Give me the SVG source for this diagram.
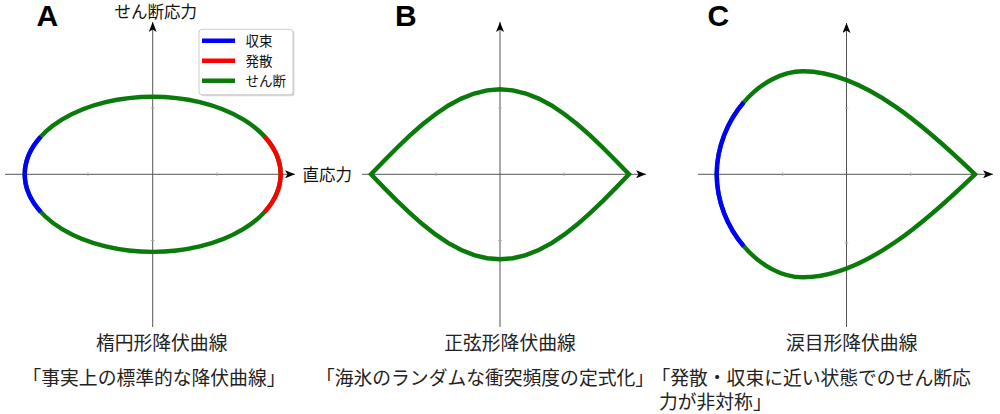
<svg xmlns="http://www.w3.org/2000/svg" width="1000" height="414" viewBox="0 0 1000 414">
<style>
.axis{stroke:#555;stroke-width:1;fill:none}
.tick{stroke:#aaa;stroke-width:1}
.curve{fill:none;stroke-width:4.4;stroke-linejoin:miter}
.g{stroke:#0a7a0a}
.b{stroke:#0000ff}
.r{stroke:#ff0000}
.lbl{font-family:"Liberation Sans Narrow","Liberation Sans",Arial,sans-serif;font-weight:bold;font-size:30px;fill:#000}
.ax{font-family:"Noto Sans CJK JP","Noto Sans",sans-serif;font-size:16.5px;fill:#111}
.leg{font-family:"Noto Sans CJK JP","Noto Sans",sans-serif;font-size:13.5px;fill:#111}
.cap{font-family:"Liberation Serif","Noto Sans CJK JP",serif;font-size:18.8px;fill:#222}
</style>
<defs>
<marker id="arr" markerUnits="userSpaceOnUse" viewBox="0 0 10 8" markerWidth="10" markerHeight="8" refX="10" refY="4" orient="auto">
<path d="M0,0 L10,4 L0,8 L2.5,4 Z" fill="#000"/>
</marker>
</defs>
<rect width="1000" height="414" fill="#fff"/>

<g id="connectors">
<line class="axis" x1="5" y1="174.3" x2="295" y2="174.3" marker-end="url(#arr)"/>
<line class="axis" x1="152.7" y1="327" x2="152.7" y2="22" marker-end="url(#arr)"/>
<line class="axis" x1="362" y1="174.3" x2="646" y2="174.3" marker-end="url(#arr)"/>
<line class="axis" x1="500" y1="327" x2="500" y2="22" marker-end="url(#arr)"/>
<line class="axis" x1="698" y1="174.3" x2="993" y2="174.3" marker-end="url(#arr)"/>
<line class="axis" x1="846.5" y1="327" x2="846.5" y2="23" marker-end="url(#arr)"/>
</g>

<g id="ticks">
<line class="tick" x1="88" y1="172.5" x2="88" y2="176"/>
<line class="tick" x1="217" y1="172.5" x2="217" y2="176"/>
<line class="tick" x1="151" y1="108" x2="154.5" y2="108"/>
<line class="tick" x1="151" y1="240.5" x2="154.5" y2="240.5"/>
<line class="tick" x1="436" y1="172.5" x2="436" y2="176"/>
<line class="tick" x1="564" y1="172.5" x2="564" y2="176"/>
<line class="tick" x1="498.3" y1="108" x2="501.8" y2="108"/>
<line class="tick" x1="498.3" y1="240.5" x2="501.8" y2="240.5"/>
<line class="tick" x1="782.7" y1="172.5" x2="782.7" y2="176"/>
<line class="tick" x1="910.7" y1="172.5" x2="910.7" y2="176"/>
<line class="tick" x1="844.8" y1="108" x2="848.3" y2="108"/>
<line class="tick" x1="844.8" y1="243" x2="848.3" y2="243"/>
</g>

<g id="panelA">
<text class="lbl" x="36.5" y="26">A</text>
<text class="ax" x="114.5" y="17.5">せん断応力</text>
<text class="ax" x="302.5" y="181.3">直応力</text>
<ellipse class="curve g" cx="152.7" cy="174.3" rx="128" ry="77.6"/>
<path class="curve b" d="M40.75,136.7 A128,77.6 0 0 0 40.75,211.9"/>
<path class="curve r" d="M264.65,136.7 A128,77.6 0 0 1 264.65,211.9"/>
<g id="legend">
<rect x="200.5" y="30.8" width="94" height="65.5" rx="3" fill="#d8d8d8"/>
<rect x="199" y="29.3" width="94" height="65.5" rx="3" fill="#fff" stroke="#ccc" stroke-width="1"/>
<line x1="202" y1="40.7" x2="235" y2="40.7" stroke="#0000ff" stroke-width="4.5"/>
<line x1="202" y1="60.7" x2="235" y2="60.7" stroke="#ff0000" stroke-width="4.5"/>
<line x1="202" y1="80.7" x2="235" y2="80.7" stroke="#0a7a0a" stroke-width="4.5"/>
<text class="leg" x="245.5" y="46">収束</text>
<text class="leg" x="245.5" y="66">発散</text>
<text class="leg" x="245.5" y="86">せん断</text>
</g>
<text class="cap" x="161.7" y="350" text-anchor="middle">楕円形降伏曲線</text>
<text class="cap" x="154" y="385.4" text-anchor="middle">「事実上の標準的な降伏曲線」</text>
</g>

<g id="panelB">
<text class="lbl" x="395" y="26">B</text>
<polyline class="curve g" points="371,174.3 383.9,161 396.8,148 409.7,135.7 422.6,124.3 435.5,114.2 448.4,105.5 461.3,98.6 474.2,93.5 487.1,90.4 500,89.3 512.9,90.4 525.8,93.5 538.7,98.6 551.6,105.5 564.5,114.2 577.4,124.3 590.3,135.7 603.2,148 616.1,161 629,174.3 616.1,187.6 603.2,200.6 590.3,212.9 577.4,224.3 564.5,234.4 551.6,243.1 538.7,250 525.8,255.1 512.9,258.2 500,259.3 487.1,258.2 474.2,255.1 461.3,250 448.4,243.1 435.5,234.4 422.6,224.3 409.7,212.9 396.8,200.6 383.9,187.6 371,174.3 383.9,161"/>
<text class="cap" x="510" y="350" text-anchor="middle">正弦形降伏曲線</text>
<text class="cap" x="485" y="385.4" text-anchor="middle">「海氷のランダムな衝突頻度の定式化」</text>
</g>

<g id="panelC">
<text class="lbl" x="707.5" y="26">C</text>
<path class="curve g" d="M975,174.3 C930,131 865,71.3 803,71.3 C760,71.3 716.7,120 716.7,174.3 C716.7,228.6 760,277.3 803,277.3 C865,277.3 930,217.6 975,174.3 Z"/>
<path class="curve b" d="M743.7,102.3 C727.5,121.3 716.7,147.15 716.7,174.3 C716.7,201.45 727.5,227.3 743.7,246.3"/>
<text class="cap" x="851.7" y="350" text-anchor="middle">涙目形降伏曲線</text>
<text class="cap" x="651.5" y="385.4">「発散・収束に近い状態でのせん断応</text>
<text class="cap" x="659" y="409">力が非対称」</text>
</g>
</svg>
